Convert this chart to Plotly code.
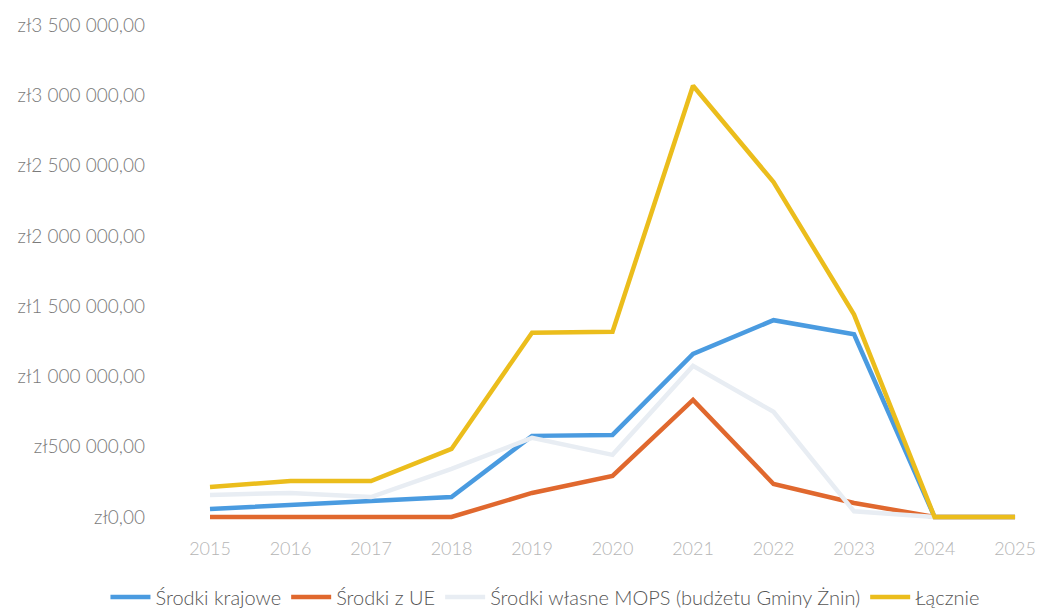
import plotly.graph_objects as go

years = [2015, 2016, 2017, 2018, 2019, 2020, 2021, 2022, 2023, 2024, 2025]
krajowe = [57000, 85000, 114000, 142000, 577000, 584000, 1160000, 1400000, 1300000, 0, 0]
ue = [0, 0, 0, 0, 171000, 292000, 833000, 235000, 100000, 0, 0]
wlasne = [157000, 171000, 142000, 342000, 563000, 442000, 1075000, 748000, 40000, 0, 0]
lacznie = [214000, 256000, 256000, 484000, 1311000, 1318000, 3068000, 2383000, 1440000, 0, 0]

names = ["Środki krajowe", "Środki z UE", "Środki własne MOPS (budżetu Gminy Żnin)", "Łącznie"]
series = [krajowe, ue, wlasne, lacznie]
colors = ["#4A9BE0", "#E0682E", "#E8EDF3", "#EBBD1C"]

yticks = [0, 500000, 1000000, 1500000, 2000000, 2500000, 3000000, 3500000]
yticklabels = ["zł0,00", "zł500 000,00", "zł1 000 000,00", "zł1 500 000,00",
               "zł2 000 000,00", "zł2 500 000,00", "zł3 000 000,00", "zł3 500 000,00"]

fig = go.Figure()
for n, s, c in zip(names, series, colors):
    fig.add_trace(go.Scatter(x=years, y=s, name=n, mode="lines",
                             line=dict(color=c, width=4.5)))

fig.update_layout(
    width=1040, height=609,
    paper_bgcolor="white", plot_bgcolor="white",
    margin=dict(l=165, r=0, t=18, b=85, autoexpand=False),
    font=dict(family="Lato", size=18, color="#777777", weight=300),
    showlegend=True,
    legend=dict(orientation="h", x=0.524, xref="container", xanchor="center",
                yref="container", y=0.0197, yanchor="middle",
                font=dict(size=20, color="#555555", weight=300),
                itemwidth=40, tracegroupgap=0, bgcolor="rgba(0,0,0,0)"),
    xaxis=dict(range=[2015 - 0.559, 2025 + 0.31], tickvals=years,
               ticktext=[str(y) for y in years], showgrid=False, zeroline=False,
               showline=False, ticks="", tickfont=dict(color="#B5B5B5", size=18, weight=300),
               ticklabelstandoff=12, ticklabeloverflow="allow"),
    yaxis=dict(range=[-50000, 3550000], tickvals=yticks, ticktext=yticklabels,
               showgrid=False, zeroline=False, showline=False, ticks="",
               tickfont=dict(color="#7A7A7A", size=19, weight=300), ticklabelstandoff=19),
)

fig.write_html(
    "out.html",
    config={"displayModeBar": False},
    post_script="document.body.style.margin='0';document.body.style.overflow='hidden';",
)
